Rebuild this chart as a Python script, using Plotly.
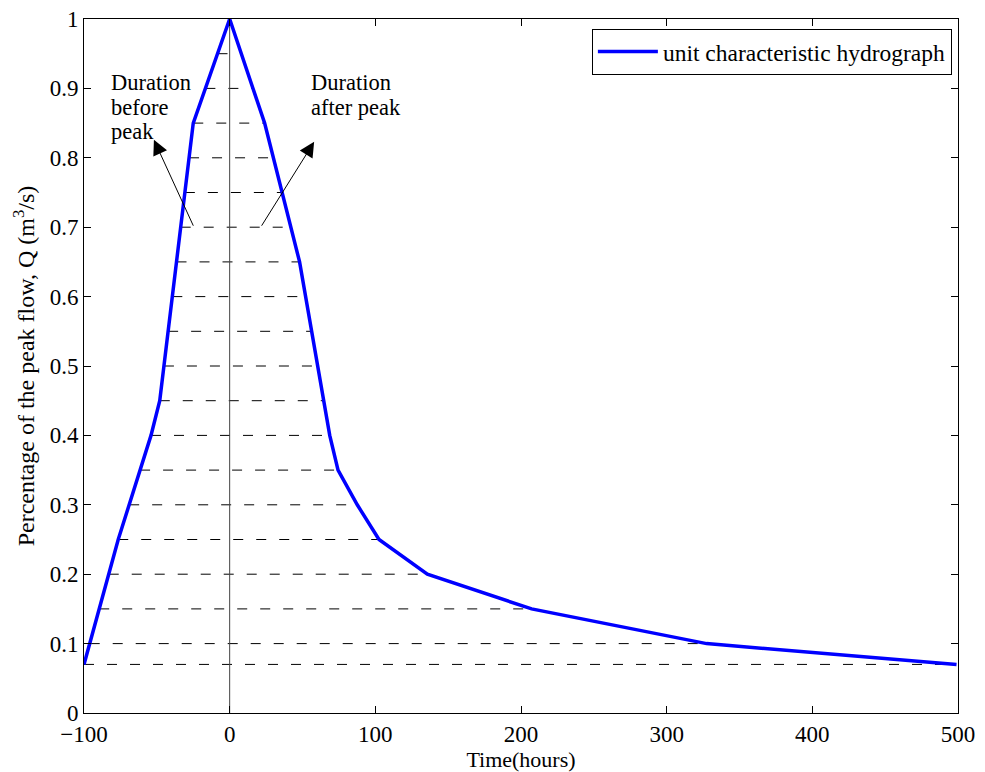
import numpy as np
import plotly.graph_objects as go

# Hydrograph data (time in hours, fraction of peak flow)
time_h = [-100, -76.5, -54, -48, -25, 0, 24, 48, 68.7, 74.4, 87.6, 102.5, 135.7, 207.3, 327.4, 499]
flow_q = [0.07, 0.25, 0.40, 0.45, 0.85, 1.0, 0.85, 0.65, 0.40, 0.35, 0.30, 0.25, 0.20, 0.15, 0.10, 0.07]

# Horizontal duration levels
levels = [0.07, 0.10, 0.15, 0.20, 0.25, 0.30, 0.35, 0.40, 0.45, 0.50,
          0.55, 0.60, 0.65, 0.70, 0.75, 0.80, 0.85, 0.90, 0.95]

x_ticks = [-100, 0, 100, 200, 300, 400, 500]
y_ticks = [0, 0.1, 0.2, 0.3, 0.4, 0.5, 0.6, 0.7, 0.8, 0.9, 1]
y_ticklabels = ["0", "0.1", "0.2", "0.3", "0.4", "0.5", "0.6", "0.7", "0.8", "0.9", "1"]

label_before = ["Duration", "before", "peak"]
label_after = ["Duration", "after peak"]

FONT = "Liberation Serif"

peak = int(np.argmax(flow_q))
lx, ly = np.array(time_h[:peak + 1]), np.array(flow_q[:peak + 1])
rx, ry = np.array(time_h[peak:])[::-1], np.array(flow_q[peak:])[::-1]

fig = go.Figure()

# dashed duration lines (from rising limb to falling limb)
dx, dy = [], []
for lv in levels:
    xl = float(np.interp(lv, ly, lx))
    xr = float(np.interp(lv, ry, rx))
    dx += [xl, xr, None]
    dy += [lv, lv, None]
fig.add_trace(go.Scatter(x=dx, y=dy, mode="lines", showlegend=False,
                         line=dict(color="black", width=1, dash="10px,13px"),
                         hoverinfo="skip"))

# vertical line at peak time
fig.add_trace(go.Scatter(x=[0, 0], y=[0, 1], mode="lines", showlegend=False,
                         line=dict(color="#444444", width=1), hoverinfo="skip"))

# hydrograph
fig.add_trace(go.Scatter(x=time_h, y=flow_q, mode="lines",
                         name="unit characteristic hydrograph",
                         line=dict(color="#0000ff", width=3.5)))

# arrows
fig.add_annotation(x=-52, y=0.826, ax=-24.5, ay=0.70, xref="x", yref="y",
                   axref="x", ayref="y", text="", showarrow=True,
                   arrowhead=2, arrowsize=3.0, arrowwidth=1, arrowcolor="black")
fig.add_annotation(x=58, y=0.823, ax=21.3, ay=0.70, xref="x", yref="y",
                   axref="x", ayref="y", text="", showarrow=True,
                   arrowhead=2, arrowsize=3.0, arrowwidth=1, arrowcolor="black")

# labels (one annotation per line)
line_y = [0.9078, 0.8718, 0.8372]
for i, t in enumerate(label_before):
    fig.add_annotation(x=-83.0, y=line_y[i], xref="x", yref="y", xanchor="left",
                       yanchor="middle", text=t, showarrow=False,
                       font=dict(family=FONT, size=22.5, color="black"))
for i, t in enumerate(label_after):
    fig.add_annotation(x=54.5, y=line_y[i], xref="x", yref="y", xanchor="left",
                       yanchor="middle", text=t, showarrow=False,
                       font=dict(family=FONT, size=22.5, color="black"))

axis_common = dict(showgrid=False, zeroline=False, showline=True, linecolor="black",
                   linewidth=1, mirror="ticks", ticks="inside", ticklen=7,
                   tickcolor="black", tickfont=dict(family=FONT, size=23, color="black"))

fig.update_xaxes(range=[-100, 500], tickvals=x_ticks, **axis_common,
                 title=dict(text="Time(hours)", font=dict(family=FONT, size=22, color="black"),
                            standoff=0))
fig.update_yaxes(range=[0, 1], tickvals=y_ticks, ticktext=y_ticklabels, **axis_common,
                 title=dict(text="Percentage of the peak flow, Q (m<sup>3</sup>/s)",
                            font=dict(family=FONT, size=24, color="black"), standoff=8))

fig.update_layout(
    width=985, height=772,
    margin=dict(l=84, r=27, t=19, b=59, autoexpand=False),
    plot_bgcolor="white", paper_bgcolor="white",
    font=dict(family=FONT, size=22, color="black"),
    legend=dict(x=0.993, y=0.986, xanchor="right", yanchor="top",
                bordercolor="black", borderwidth=1, bgcolor="white",
                itemwidth=60, font=dict(family=FONT, size=23.5, color="black")),
)

fig.write_html("out.html")
